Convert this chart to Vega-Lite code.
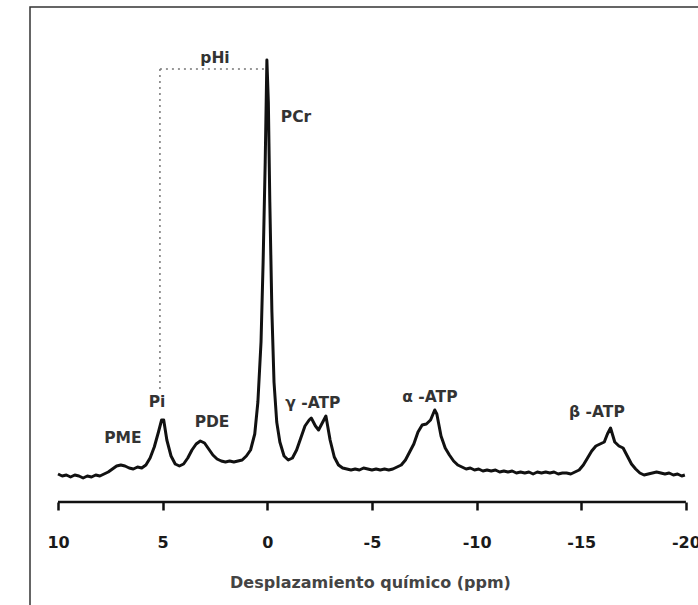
{
  "$schema": "https://vega.github.io/schema/vega-lite/v6.json",
  "width": 700,
  "height": 610,
  "autosize": "none",
  "padding": {"left": 30, "top": 7, "right": 0, "bottom": 0},
  "background": "white",
  "config": {"view": {"stroke": "#333", "strokeWidth": 1.5}},
  "datasets": {
    "spectrum": [
      {"ppm": 10.0, "h": 28}, {"ppm": 9.8, "h": 26}, {"ppm": 9.6, "h": 27}, {"ppm": 9.4, "h": 25},
      {"ppm": 9.2, "h": 27}, {"ppm": 9.0, "h": 26}, {"ppm": 8.8, "h": 24}, {"ppm": 8.6, "h": 26},
      {"ppm": 8.4, "h": 25}, {"ppm": 8.2, "h": 27}, {"ppm": 8.0, "h": 26}, {"ppm": 7.8, "h": 28},
      {"ppm": 7.6, "h": 30}, {"ppm": 7.4, "h": 33}, {"ppm": 7.2, "h": 36}, {"ppm": 7.0, "h": 37},
      {"ppm": 6.8, "h": 36}, {"ppm": 6.6, "h": 34}, {"ppm": 6.4, "h": 33}, {"ppm": 6.2, "h": 35},
      {"ppm": 6.0, "h": 34}, {"ppm": 5.8, "h": 37}, {"ppm": 5.6, "h": 44}, {"ppm": 5.4, "h": 55},
      {"ppm": 5.2, "h": 70}, {"ppm": 5.05, "h": 82}, {"ppm": 4.95, "h": 82}, {"ppm": 4.8, "h": 62},
      {"ppm": 4.6, "h": 46}, {"ppm": 4.4, "h": 38}, {"ppm": 4.2, "h": 36}, {"ppm": 4.0, "h": 38},
      {"ppm": 3.8, "h": 44}, {"ppm": 3.6, "h": 52}, {"ppm": 3.4, "h": 58}, {"ppm": 3.2, "h": 61},
      {"ppm": 3.0, "h": 59}, {"ppm": 2.8, "h": 53}, {"ppm": 2.6, "h": 47}, {"ppm": 2.4, "h": 43},
      {"ppm": 2.2, "h": 41}, {"ppm": 2.0, "h": 40}, {"ppm": 1.8, "h": 41}, {"ppm": 1.6, "h": 40},
      {"ppm": 1.4, "h": 41}, {"ppm": 1.2, "h": 42}, {"ppm": 1.0, "h": 46}, {"ppm": 0.8, "h": 52},
      {"ppm": 0.6, "h": 68}, {"ppm": 0.45, "h": 100}, {"ppm": 0.3, "h": 160}, {"ppm": 0.2, "h": 240},
      {"ppm": 0.1, "h": 340}, {"ppm": 0.02, "h": 442}, {"ppm": -0.05, "h": 400}, {"ppm": -0.12, "h": 300},
      {"ppm": -0.22, "h": 190}, {"ppm": -0.32, "h": 120}, {"ppm": -0.45, "h": 80}, {"ppm": -0.6, "h": 60}, {"ppm": -0.8, "h": 46},
      {"ppm": -1.0, "h": 42}, {"ppm": -1.2, "h": 44}, {"ppm": -1.4, "h": 52}, {"ppm": -1.6, "h": 64},
      {"ppm": -1.8, "h": 76}, {"ppm": -2.0, "h": 82}, {"ppm": -2.1, "h": 84}, {"ppm": -2.3, "h": 76},
      {"ppm": -2.45, "h": 72}, {"ppm": -2.6, "h": 78}, {"ppm": -2.8, "h": 86}, {"ppm": -3.0, "h": 62},
      {"ppm": -3.2, "h": 45}, {"ppm": -3.4, "h": 37}, {"ppm": -3.6, "h": 34}, {"ppm": -3.8, "h": 33},
      {"ppm": -4.0, "h": 32}, {"ppm": -4.2, "h": 33}, {"ppm": -4.4, "h": 32}, {"ppm": -4.6, "h": 34},
      {"ppm": -4.8, "h": 33}, {"ppm": -5.0, "h": 32}, {"ppm": -5.2, "h": 33}, {"ppm": -5.4, "h": 32},
      {"ppm": -5.6, "h": 33}, {"ppm": -5.8, "h": 32}, {"ppm": -6.0, "h": 33}, {"ppm": -6.2, "h": 35},
      {"ppm": -6.4, "h": 37}, {"ppm": -6.6, "h": 42}, {"ppm": -6.8, "h": 50}, {"ppm": -7.0, "h": 58},
      {"ppm": -7.2, "h": 70}, {"ppm": -7.4, "h": 77}, {"ppm": -7.6, "h": 78}, {"ppm": -7.8, "h": 82},
      {"ppm": -8.0, "h": 92}, {"ppm": -8.1, "h": 88}, {"ppm": -8.3, "h": 66}, {"ppm": -8.5, "h": 54},
      {"ppm": -8.7, "h": 47}, {"ppm": -8.9, "h": 41}, {"ppm": -9.1, "h": 37}, {"ppm": -9.3, "h": 35},
      {"ppm": -9.5, "h": 33}, {"ppm": -9.7, "h": 34}, {"ppm": -9.9, "h": 32}, {"ppm": -10.1, "h": 33},
      {"ppm": -10.3, "h": 31}, {"ppm": -10.5, "h": 32}, {"ppm": -10.7, "h": 31}, {"ppm": -10.9, "h": 32},
      {"ppm": -11.1, "h": 30}, {"ppm": -11.3, "h": 31}, {"ppm": -11.5, "h": 30}, {"ppm": -11.7, "h": 31},
      {"ppm": -11.9, "h": 29}, {"ppm": -12.1, "h": 30}, {"ppm": -12.3, "h": 29}, {"ppm": -12.5, "h": 30},
      {"ppm": -12.7, "h": 28}, {"ppm": -12.9, "h": 30}, {"ppm": -13.1, "h": 29}, {"ppm": -13.3, "h": 30},
      {"ppm": -13.5, "h": 29}, {"ppm": -13.7, "h": 30}, {"ppm": -13.9, "h": 28}, {"ppm": -14.1, "h": 29},
      {"ppm": -14.3, "h": 29}, {"ppm": -14.5, "h": 28}, {"ppm": -14.7, "h": 30}, {"ppm": -14.9, "h": 32},
      {"ppm": -15.1, "h": 37}, {"ppm": -15.3, "h": 44}, {"ppm": -15.5, "h": 51}, {"ppm": -15.7, "h": 56},
      {"ppm": -15.9, "h": 58}, {"ppm": -16.1, "h": 60}, {"ppm": -16.25, "h": 68}, {"ppm": -16.4, "h": 74},
      {"ppm": -16.6, "h": 60}, {"ppm": -16.8, "h": 56}, {"ppm": -17.0, "h": 54}, {"ppm": -17.2, "h": 46},
      {"ppm": -17.4, "h": 38}, {"ppm": -17.6, "h": 33}, {"ppm": -17.8, "h": 29}, {"ppm": -18.0, "h": 27},
      {"ppm": -18.2, "h": 28}, {"ppm": -18.4, "h": 29}, {"ppm": -18.6, "h": 30}, {"ppm": -18.8, "h": 29},
      {"ppm": -19.0, "h": 28}, {"ppm": -19.2, "h": 29}, {"ppm": -19.4, "h": 27}, {"ppm": -19.6, "h": 28},
      {"ppm": -19.8, "h": 26}, {"ppm": -19.95, "h": 27}
    ],
    "labels": [
      {"label": "pHi", "ppm": 2.5, "h": 444},
      {"label": "PCr", "ppm": -1.37, "h": 385},
      {"label": "Pi", "ppm": 5.27, "h": 100},
      {"label": "PME", "ppm": 6.9, "h": 64},
      {"label": "PDE", "ppm": 2.64, "h": 80},
      {"label": "γ -ATP", "ppm": -2.18, "h": 99},
      {"label": "α -ATP", "ppm": -7.77, "h": 105},
      {"label": "β -ATP", "ppm": -15.75, "h": 90}
    ]
  },
  "layer": [
    {
      "data": {"name": "spectrum"},
      "mark": {"type": "line", "color": "#111", "strokeWidth": 3, "strokeJoin": "round"},
      "encoding": {
        "x": {
          "field": "ppm", "type": "quantitative",
          "scale": {"domain": [11.338, -22.107], "nice": false, "zero": false},
          "axis": {
            "values": [10, 5, 0, -5, -10, -15, -20],
            "labelExpr": "'' + datum.value",
            "domain": false, "grid": false,
            "offset": -115,
            "tickSize": 8, "tickWidth": 2.5, "tickColor": "#111",
            "labelFont": "DejaVu Sans", "labelFontWeight": "bold", "labelFontSize": 16,
            "labelColor": "#1a1a1a", "labelPadding": 24,
            "title": "Desplazamiento químico (ppm)",
            "titleFont": "DejaVu Sans", "titleFontWeight": "bold", "titleFontSize": 16,
            "titleColor": "#444", "titleX": 340, "titleY": 80, "titleBaseline": "middle"
          }
        },
        "y": {
          "field": "h", "type": "quantitative",
          "scale": {"domain": [-115, 495], "nice": false, "zero": false},
          "axis": null
        }
      }
    },
    {
      "data": {"values": [{}]},
      "mark": {"type": "rule", "strokeDash": [2, 4], "strokeWidth": 1.5, "color": "#777"},
      "encoding": {
        "x": {"datum": 5.13, "type": "quantitative"},
        "x2": {"datum": 0.1},
        "y": {"datum": 433, "type": "quantitative"}
      }
    },
    {
      "data": {"values": [{}]},
      "mark": {"type": "rule", "strokeDash": [2, 4], "strokeWidth": 1.5, "color": "#777"},
      "encoding": {
        "x": {"datum": 5.13, "type": "quantitative"},
        "y": {"datum": 433, "type": "quantitative"},
        "y2": {"datum": 112}
      }
    },
    {
      "data": {"values": [{}]},
      "mark": {"type": "rule", "strokeWidth": 2.5, "color": "#111"},
      "encoding": {
        "x": {"datum": 10, "type": "quantitative"},
        "x2": {"datum": -20},
        "y": {"datum": 0, "type": "quantitative"}
      }
    },
    {
      "data": {"name": "labels"},
      "mark": {"type": "text", "font": "DejaVu Sans", "fontWeight": "bold", "fontSize": 15.5, "color": "#333", "align": "center", "baseline": "middle"},
      "encoding": {
        "x": {"field": "ppm", "type": "quantitative"},
        "y": {"field": "h", "type": "quantitative"},
        "text": {"field": "label"}
      }
    }
  ]
}
